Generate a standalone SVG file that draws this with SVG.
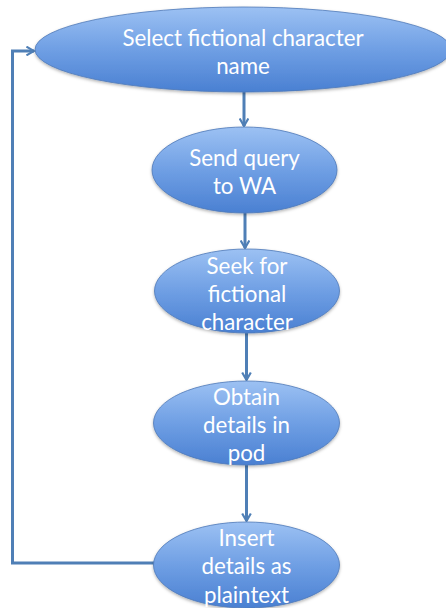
<svg xmlns="http://www.w3.org/2000/svg" width="446" height="608" viewBox="0 0 446 608">
  <defs>
    <linearGradient id="fill" x1="0" y1="0" x2="0" y2="1">
      <stop offset="0" stop-color="#9cc1f3"/>
      <stop offset="0.5" stop-color="#6f9fe4"/>
      <stop offset="1" stop-color="#4a80d2"/>
    </linearGradient>
    <marker id="arrow" viewBox="0 0 10 10" refX="8" refY="5" markerWidth="3.6" markerHeight="3.6" orient="auto" markerUnits="strokeWidth">
      <path d="M1,1 L8,5 L1,9" fill="none" stroke="#4f7fb6" stroke-width="2"/>
    </marker>
    <filter id="shadow" x="-10%" y="-10%" width="120%" height="130%">
      <feDropShadow dx="0" dy="1.5" stdDeviation="1.5" flood-color="#000" flood-opacity="0.3"/>
    </filter>
  </defs>
  <style>
    .node ellipse { fill: url(#fill); stroke: #4e79b8; stroke-width: 0.8; filter: url(#shadow); }
    .node text { font-family: "Lato", "Open Sans", "Liberation Sans", sans-serif; font-size: 22.3px; fill: #ffffff; text-anchor: middle; }
    .edge { fill: none; stroke: #4f7fb6; stroke-width: 3; marker-end: url(#arrow); }
  </style>

  <g id="connectors">
    <path class="edge" d="M244,92 L244,126"/>
    <path class="edge" d="M245,213 L245,248"/>
    <path class="edge" d="M246.5,333 L246.5,380"/>
    <path class="edge" d="M246.5,465 L246.5,521"/>
    <path class="edge" d="M154,563 L12.5,563 L12.5,51 L34,51"/>
  </g>

  <g id="select-name" class="node">
    <ellipse cx="243" cy="49.5" rx="208" ry="42.5"/>
    <text x="243" y="46">Select fictional character</text>
    <text x="243" y="74">name</text>
  </g>

  <g id="send-query" class="node">
    <ellipse cx="244.5" cy="170" rx="92.5" ry="43"/>
    <text x="244.5" y="166">Send query</text>
    <text x="244.5" y="194">to WA</text>
  </g>

  <g id="seek-character" class="node">
    <ellipse cx="247" cy="291" rx="92.5" ry="42"/>
    <text x="247" y="274">Seek for</text>
    <text x="247" y="302">fictional</text>
    <text x="247" y="330">character</text>
  </g>

  <g id="obtain-details" class="node">
    <ellipse cx="246.5" cy="423" rx="93" ry="42"/>
    <text x="246.5" y="405">Obtain</text>
    <text x="246.5" y="433">details in</text>
    <text x="246.5" y="461">pod</text>
  </g>

  <g id="insert-details" class="node">
    <ellipse cx="246.5" cy="565" rx="93" ry="43"/>
    <text x="246.5" y="546">Insert</text>
    <text x="246.5" y="574">details as</text>
    <text x="246.5" y="603">plaintext</text>
  </g>
</svg>
